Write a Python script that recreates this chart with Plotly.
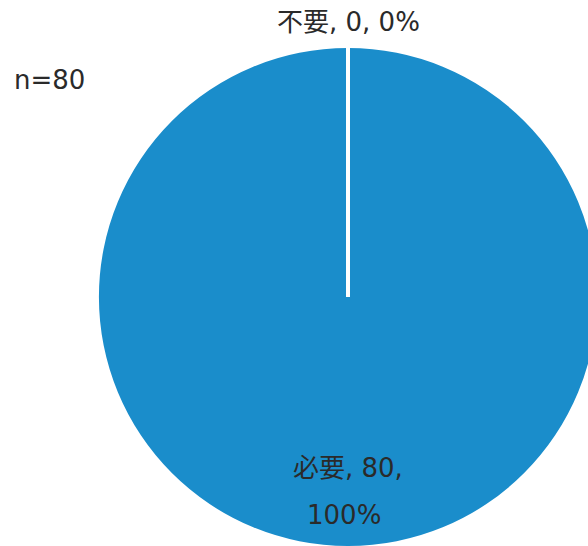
import plotly.graph_objects as go

labels = ["必要", "不要"]
values = [80, 0]
n_total = sum(values)
pcts = [round(100 * v / n_total) for v in values]

W, H = 600, 546
cx, cy, r = 348, 297, 249  # pixels from top-left

fig = go.Figure(go.Pie(
    labels=labels,
    values=values,
    sort=False,
    direction="clockwise",
    rotation=0,
    textinfo="none",
    hoverinfo="label+value+percent",
    marker=dict(colors=["#1a8dcb", "#1a8dcb"], line=dict(color="white", width=0)),
    domain=dict(x=[(cx - r) / W, (cx + r) / W], y=[max(0, 1 - (cy + r) / H), 1 - (cy - r) / H]),
    showlegend=False,
))

# white separator at the 0% slice boundary (top of the pie)
fig.add_shape(type="line", xref="paper", yref="paper",
              x0=cx / W, x1=cx / W, y0=1 - cy / H, y1=1 - (cy - r - 2) / H,
              line=dict(color="white", width=4))

font = dict(family="DejaVu Sans, Noto Sans CJK JP, sans-serif", size=26, color="#2a2a2a")

fig.add_annotation(x=cx / W, y=1 - 22 / H, xref="paper", yref="paper",
                   text=f"{labels[1]}, {values[1]}, {pcts[1]}%", showarrow=False,
                   font=font, xanchor="center", yanchor="middle")
fig.add_annotation(x=cx / W, y=1 - 468 / H, xref="paper", yref="paper",
                   text=f"{labels[0]}, {values[0]},", showarrow=False,
                   font=font, xanchor="center", yanchor="middle")
fig.add_annotation(x=344 / W, y=1 - 515 / H, xref="paper", yref="paper",
                   text=f"{pcts[0]}%", showarrow=False,
                   font=font, xanchor="center", yanchor="middle")
fig.add_annotation(x=12 / W, y=1 - 80 / H, xref="paper", yref="paper",
                   text=f"n={n_total}", showarrow=False,
                   font=font, xanchor="left", yanchor="middle")

fig.update_layout(width=W, height=H, margin=dict(l=0, r=0, t=0, b=0),
                  paper_bgcolor="white", plot_bgcolor="white")

fig.write_html("out.html", post_script="document.documentElement.style.overflow='hidden';document.body.style.overflow='hidden';document.body.style.margin='0';")
